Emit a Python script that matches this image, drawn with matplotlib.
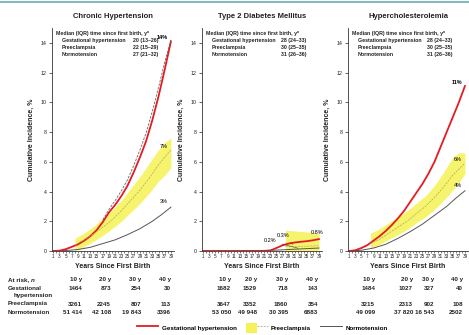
import matplotlib.pyplot as plt
import numpy as np
from matplotlib.lines import Line2D
from matplotlib.patches import Patch
from matplotlib.legend_handler import HandlerTuple

plt.rcParams['font.family'] = ['Liberation Sans', 'DejaVu Sans']

W, H = 469, 335

titles = ['Chronic Hypertension', 'Type 2 Diabetes Mellitus', 'Hypercholesterolemia']
groups = ['Gestational hypertension', 'Preeclampsia', 'Normotension']
medians = [['20 (13\u201326)', '22 (15\u201329)', '27 (21\u201332)'],
           ['28 (24\u201333)', '30 (25\u201335)', '31 (26\u201336)'],
           ['28 (24\u201333)', '30 (25\u201335)', '31 (26\u201336)']]

# gestational hypertension curves
gh_years = [1, 3, 5, 7, 9, 11, 13, 15, 17, 19, 21, 23, 25, 27, 29, 31, 33, 35, 37, 39]
gh_chronic = [0, 0.02, 0.12, 0.28, 0.45, 0.7, 1.0, 1.4, 1.95, 2.6, 3.1, 3.7, 4.4, 5.3, 6.3, 7.4, 8.8, 10.4, 12.2, 14.1]
gh_diab = [0, 0, 0, 0, 0, 0, 0, 0, 0, 0, 0, 0.03, 0.2, 0.38, 0.5, 0.57, 0.62, 0.66, 0.72, 0.8]
gh_chol = [0, 0.05, 0.2, 0.4, 0.7, 1.0, 1.35, 1.75, 2.2, 2.7, 3.3, 3.9, 4.5, 5.2, 6.0, 7.0, 8.0, 9.0, 10.0, 11.1]

# dashed line next to the red curve (chronic hypertension)
dash_years = [17, 19, 21, 23, 25, 27, 29, 31, 33, 35, 37, 39]
dash_chronic = [2.1, 2.8, 3.4, 4.05, 4.8, 5.75, 6.8, 7.95, 9.4, 11.0, 12.7, 14.2]

# preeclampsia curves with bands
pe_years = [8, 11, 14, 17, 20, 23, 26, 29, 32, 35, 37, 39]
pe_chronic = [0.4, 0.75, 1.15, 1.6, 2.1, 2.7, 3.4, 4.1, 4.9, 5.8, 6.3, 6.8]
pe_chronic_lo = [0.0, 0.3, 0.65, 1.05, 1.5, 2.0, 2.6, 3.2, 3.9, 4.7, 5.1, 5.6]
pe_chronic_hi = [0.85, 1.2, 1.65, 2.2, 2.75, 3.4, 4.2, 5.0, 5.9, 6.8, 7.3, 7.6]
pe_chol = [0.5, 0.8, 1.2, 1.6, 2.0, 2.5, 3.0, 3.6, 4.3, 5.1, 5.5, 5.9]
pe_chol_lo = [0.2, 0.45, 0.8, 1.1, 1.45, 1.9, 2.3, 2.8, 3.4, 4.1, 4.6, 5.2]
pe_chol_hi = [1.2, 1.5, 1.9, 2.3, 2.7, 3.2, 3.7, 4.4, 5.3, 6.3, 6.6, 6.6]
pe_diab_years = [28, 31, 34, 37, 39]
pe_diab = [0.3, 0.3, 0.32, 0.34, 0.35]
pe_diab_lo = [0.0, 0.0, 0.02, 0.04, 0.05]
pe_diab_hi = [1.4, 1.35, 1.3, 1.25, 1.2]

# normotension curves
nt_years = [1, 5, 9, 13, 17, 21, 25, 29, 33, 36, 39]
nt_chronic = [0, 0.03, 0.1, 0.25, 0.5, 0.75, 1.1, 1.5, 2.0, 2.45, 2.95]
nt_diab = [0, 0, 0, 0.01, 0.02, 0.04, 0.06, 0.1, 0.14, 0.17, 0.2]
nt_chol = [0, 0.05, 0.2, 0.45, 0.85, 1.3, 1.8, 2.4, 3.0, 3.55, 4.05]

end_labels = [['14%', '7%', '3%'], ['0.8%', '0.3%', '0.2%'], ['11%', '6%', '4%']]

risk_cols = ['10 y', '20 y', '30 y', '40 y']
risk = [
    [['1464', '873', '254', '30'], ['3261', '2245', '807', '113'], ['51 414', '42 108', '19 843', '3396']],
    [['1682', '1529', '718', '143'], ['3647', '3352', '1860', '354'], ['53 050', '49 948', '30 395', '6883']],
    [['1484', '1027', '327', '40'], ['3215', '2313', '902', '108'], ['49 099', '37 820', '16 543', '2502']],
]

RED = '#e41b23'
YEL = '#f4ef3c'
GRAY = '#555555'
TXT = '#222222'
NARROW = ['Liberation Sans Narrow', 'Liberation Sans', 'DejaVu Sans']


def fx(x):
    return x / W


def fy(y):
    return 1 - y / H


fig = plt.figure(figsize=(4.69, 3.35), dpi=100)
fig.add_artist(Line2D([0, 1], [fy(2), fy(2)], color='#6aaeb0', lw=1.2))

lefts = [52, 202, 348]
widths = [122, 120, 120]
gh_all = [gh_chronic, gh_diab, gh_chol]
pe_all = [(pe_years, pe_chronic, pe_chronic_lo, pe_chronic_hi),
          (pe_diab_years, pe_diab, pe_diab_lo, pe_diab_hi),
          (pe_years, pe_chol, pe_chol_lo, pe_chol_hi)]
nt_all = [nt_chronic, nt_diab, nt_chol]

axes = []
for i in range(3):
    ax = fig.add_axes([fx(lefts[i]), fy(251), fx(widths[i]), (251 - 28) / H])
    axes.append(ax)
    ax.plot(nt_years, nt_all[i], color=GRAY, lw=0.7)
    ax.plot(gh_years, gh_all[i], color=RED, lw=1.3)
    if i == 0:
        ax.plot(dash_years, dash_chronic, color='#666666', lw=0.6, ls=(0, (3, 1.5)))
    py, pc, plo, phi = pe_all[i]
    ax.fill_between(py, plo, phi, color=YEL, alpha=0.75, lw=0)
    ax.plot(py, pc, color='#b0a860', lw=0.5, ls=(0, (3, 1.5)))

    ax.set_xlim(0.6, 40)
    ax.set_ylim(0, 15)
    ax.set_xticks(range(1, 40))
    ax.set_xticklabels([str(v) if v % 2 else '' for v in range(1, 40)])
    ax.set_yticks(range(0, 15, 2))
    ax.tick_params(axis='x', labelsize=3.3, length=1.2, width=0.4, pad=0.8, colors=TXT)
    ax.tick_params(axis='y', labelsize=3.8, length=2, width=0.5, pad=2, colors=TXT)
    for s in ['top', 'right']:
        ax.spines[s].set_visible(False)
    for s in ['left', 'bottom']:
        ax.spines[s].set_linewidth(0.6)
        ax.spines[s].set_color('#333333')
    ax.set_ylabel('Cumulative Incidence, %', fontsize=5, fontweight='bold', labelpad=4, color=TXT)
    ax.set_xlabel('Years Since First Birth', fontsize=5, fontweight='bold', labelpad=3, color=TXT)
    ax.set_title(titles[i], fontsize=5.5, fontweight='bold', pad=7, color=TXT)

    # median box
    ax.text(0.03, 0.985, 'Median (IQR) time since first birth, y*', transform=ax.transAxes,
            fontsize=3.8, fontweight='bold', va='top', ha='left', color=TXT, family=NARROW)
    for r in range(3):
        yy = 0.955 - r * 0.032
        ax.text(0.08, yy, groups[r], transform=ax.transAxes, fontsize=3.8,
                fontweight='bold', va='top', ha='left', color=TXT, family=NARROW)
        ax.text(0.87, yy, medians[i][r], transform=ax.transAxes, fontsize=3.8,
                fontweight='bold', va='top', ha='right', color=TXT, family=NARROW)

# end labels
axes[0].annotate(end_labels[0][0], (gh_years[-1], gh_chronic[-1]), xytext=(-2, 1),
                 textcoords='offset points', fontsize=4, fontweight='bold', ha='right', va='bottom')
axes[0].annotate(end_labels[0][1], (pe_years[-1], pe_chronic[-1]), xytext=(-2, 1),
                 textcoords='offset points', fontsize=4, ha='right', va='bottom')
axes[0].annotate(end_labels[0][2], (nt_years[-1], nt_chronic[-1]), xytext=(-2, 2),
                 textcoords='offset points', fontsize=4, ha='right', va='bottom')
axes[2].annotate(end_labels[2][0], (gh_years[-1], gh_chol[-1]), xytext=(-2, 1),
                 textcoords='offset points', fontsize=4, fontweight='bold', ha='right', va='bottom')
axes[2].annotate(end_labels[2][1], (pe_years[-1], pe_chol[-1]), xytext=(-2, 1),
                 textcoords='offset points', fontsize=4, ha='right', va='bottom')
axes[2].annotate(end_labels[2][2], (nt_years[-1], nt_chol[-1]), xytext=(-2, 2),
                 textcoords='offset points', fontsize=4, ha='right', va='bottom')
axes[1].annotate(end_labels[1][0], (gh_years[-1], gh_diab[-1]), xytext=(-1, 3),
                 textcoords='offset points', fontsize=4, ha='center', va='bottom')
axes[1].annotate(end_labels[1][1], (pe_diab_years[1], pe_diab[1]), xytext=(-8, 6),
                 textcoords='offset points', fontsize=4, ha='center', va='bottom',
                 arrowprops=dict(arrowstyle='-', lw=0.4, color='#444444'))
axes[1].annotate(end_labels[1][2], (nt_years[-3], nt_diab[-3]), xytext=(-22, 4),
                 textcoords='offset points', fontsize=4, ha='center', va='bottom',
                 arrowprops=dict(arrowstyle='-', lw=0.4, color='#444444'))

# at-risk table
row_y = [280, 288, 304, 313]
fig.text(fx(8), fy(row_y[0]), 'At risk, ', fontsize=4.5, fontweight='bold', va='center', color=TXT)
fig.text(fx(31), fy(row_y[0]), 'n', fontsize=4.5, fontweight='bold', style='italic', va='center', color=TXT)
fig.text(fx(8), fy(row_y[1]), 'Gestational', fontsize=4.5, fontweight='bold', va='center', color=TXT)
fig.text(fx(14), fy(296), 'hypertension', fontsize=4.5, fontweight='bold', va='center', color=TXT)
fig.text(fx(8), fy(row_y[2]), 'Preeclampsia', fontsize=4.5, fontweight='bold', va='center', color=TXT)
fig.text(fx(8), fy(row_y[3]), 'Normotension', fontsize=4.5, fontweight='bold', va='center', color=TXT)
col_x = [[82, 111, 141, 171], [231, 257, 288, 318], [375, 413, 434, 463]]
for i in range(3):
    for c in range(4):
        fig.text(fx(col_x[i][c]), fy(row_y[0]), risk_cols[c], fontsize=4.5, fontweight='bold',
                 ha='right', va='center', color=TXT)
        for r in range(3):
            fig.text(fx(col_x[i][c]), fy(row_y[r + 1]), risk[i][r][c], fontsize=4.5,
                     fontweight='bold', ha='right', va='center', color=TXT)

# legend
h_gh = Line2D([], [], color=RED, lw=1.3)
h_pe = (Patch(facecolor=YEL, alpha=0.85, lw=0), Line2D([], [], color='#b0a860', lw=0.5, ls=(0, (3, 1.5))))
h_nt = Line2D([], [], color=GRAY, lw=0.7)
fig.legend([h_gh, h_pe, h_nt], groups, handler_map={tuple: HandlerTuple(ndivide=None, pad=0)},
           loc='center', bbox_to_anchor=(fx(262), fy(328)), ncol=3, frameon=False,
           prop={'size': 4.5, 'weight': 'bold'}, handlelength=3.5, handleheight=2.2,
           columnspacing=1.5, handletextpad=0.5)

fig.savefig('out.png', dpi=100)
